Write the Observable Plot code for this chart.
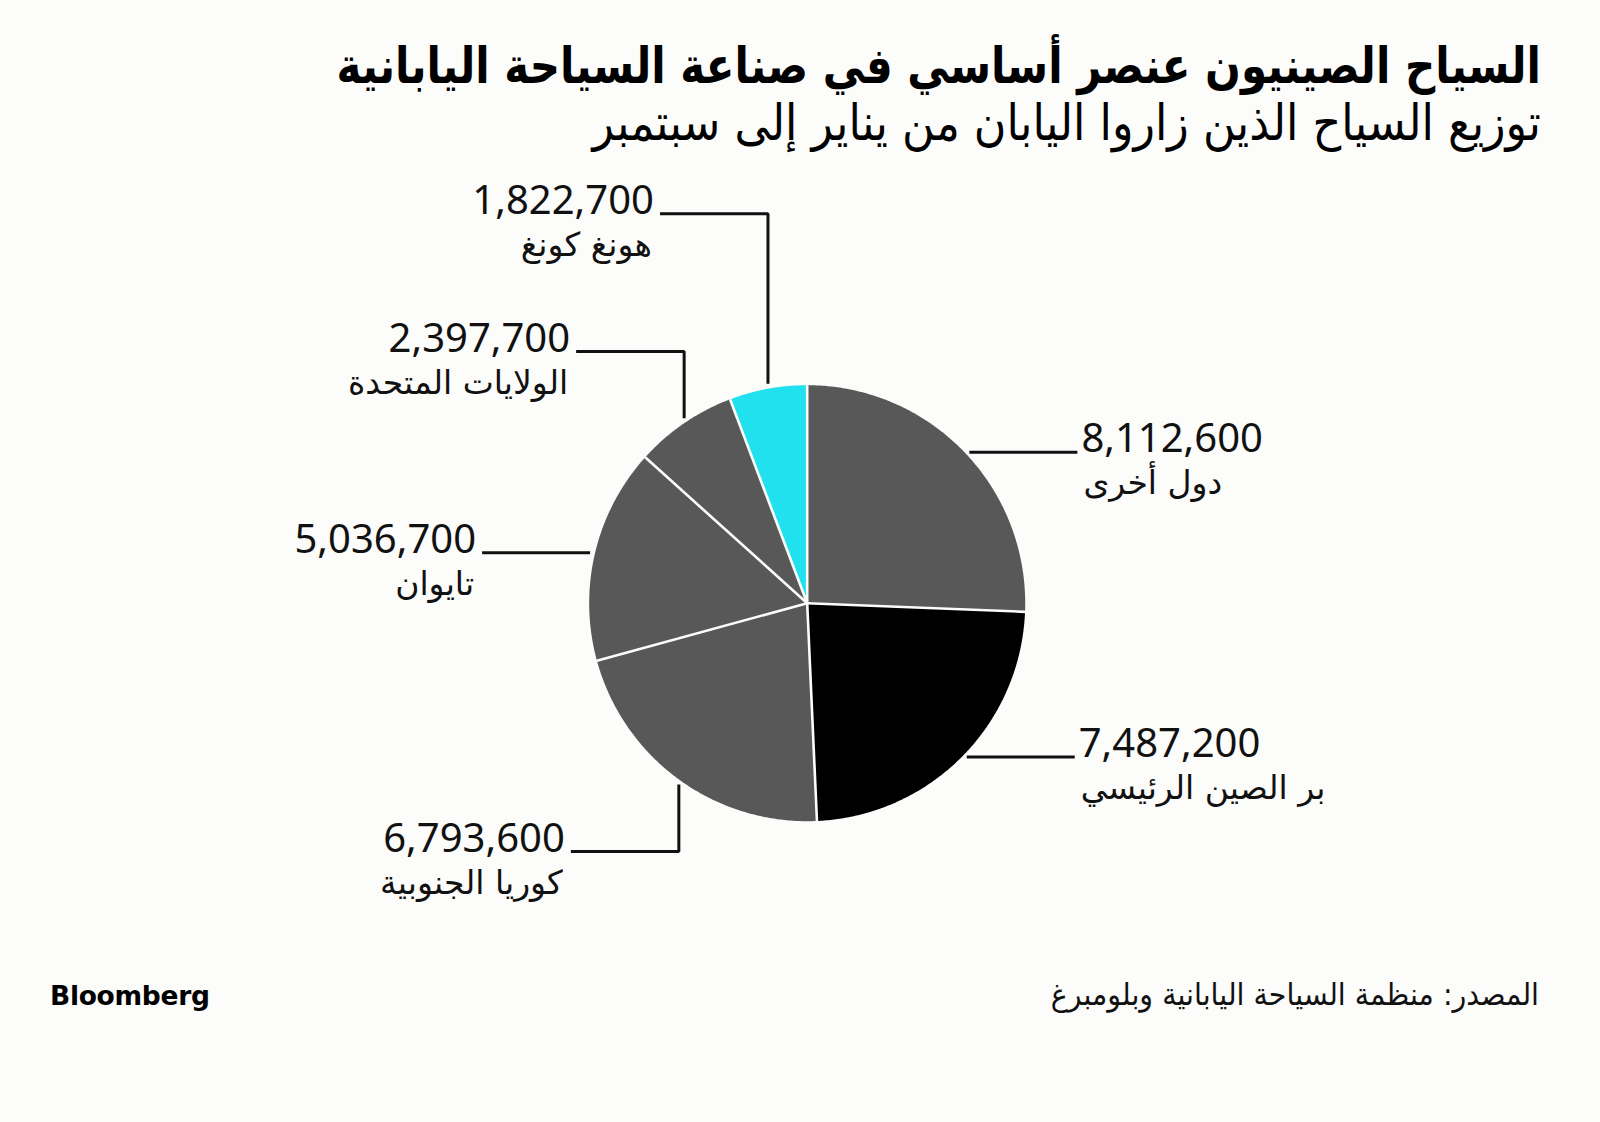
<!DOCTYPE html>
<html>
<head>
<meta charset="utf-8">
<script src="https://cdn.jsdelivr.net/npm/d3@7"></script>
<script src="https://cdn.jsdelivr.net/npm/@observablehq/plot@0.6"></script>
<style>
  html, body { margin: 0; padding: 0; background: #fcfcfa; }
  #page { position: relative; width: 1600px; height: 1122px; overflow: hidden; background: #fcfcfa; }
  #header { position: relative; height: 170px; }
  .title { position: absolute; right: 59px; top: 42px; font-family: "DejaVu Sans"; font-weight: bold; font-size: 42px; line-height: 1; direction: rtl; white-space: nowrap; color: #000; transform: scale(1, 1.18); transform-origin: 100% 0; }
  .subtitle { position: absolute; right: 59px; top: 99px; font-family: "DejaVu Sans"; font-weight: normal; font-size: 44.5px; line-height: 1; direction: rtl; white-space: nowrap; color: #000; transform: scale(1, 1.12); transform-origin: 100% 0; }
  #chart { position: absolute; left: 0; top: 170px; }
  .brand { position: absolute; left: 50px; top: 983px; font-family: "DejaVu Sans"; font-weight: bold; font-size: 26.5px; line-height: 1; color: #000; letter-spacing: -0.3px; }
  .source { position: absolute; right: 61px; top: 980px; font-family: "DejaVu Sans"; font-size: 28.5px; line-height: 1; direction: rtl; white-space: nowrap; color: #111; transform: scale(1, 1.08); transform-origin: 100% 0; }
</style>
</head>
<body>
<div id="page">
  <div id="header">
    <div class="title" id="title"></div>
    <div class="subtitle" id="subtitle"></div>
  </div>
  <div id="chart"></div>
  <div class="brand" id="brand"></div>
  <div class="source" id="source"></div>
</div>
<script>
// ---------- data ----------
const titleText = "السياح الصينيون عنصر أساسي في صناعة السياحة اليابانية";
const subtitleText = "توزيع السياح الذين زاروا اليابان من يناير إلى سبتمبر";
const sourceText = "المصدر: منظمة السياحة اليابانية وبلومبرغ";
const brandText = "Bloomberg";

// slices in clockwise order starting at 12 o'clock
const regions = ["دول أخرى", "بر الصين الرئيسي", "كوريا الجنوبية", "تايوان", "الولايات المتحدة", "هونغ كونغ"];
const visitors = [8112600, 7487200, 6793600, 5036700, 2397700, 1822700];

// ---------- styles / layout (kept apart from the data) ----------
const sliceColors = ["#585858", "#000000", "#585858", "#585858", "#585858", "#22e1ee"];
const W = 1600, H = 780;
const R = 218, CX = 806.7, CY = 432.7;   // pie radius and centre in px
const GAP = 5, RUN = 108;                // leader gap and horizontal run, px
// leader routing per slice: side of label, and for elbowed leaders the y of the elbow (px from centre)
const leaderRoute = [
  {side: "right"},
  {side: "right"},
  {side: "left", elbow: 248.3},
  {side: "left"},
  {side: "left", elbow: -251.7},
  {side: "left", elbow: -389.4}
];

document.getElementById("title").textContent = titleText;
document.getElementById("subtitle").textContent = subtitleText;
document.getElementById("source").textContent = sourceText;
document.getElementById("brand").textContent = brandText;

const rows = regions.map((name, i) => ({name, value: visitors[i], i}));
const arcs = d3.pie().sort(null).value(d => d.value)(rows);

// slice outlines (centre + arc samples), in radius units
const slicePts = arcs.flatMap(a => {
  const n = Math.max(4, Math.ceil((a.endAngle - a.startAngle) / (Math.PI / 360)));
  const pts = [{name: a.data.name, x: 0, y: 0}];
  for (let k = 0; k <= n; k++) {
    const t = a.startAngle + (a.endAngle - a.startAngle) * k / n;
    pts.push({name: a.data.name, x: Math.sin(t), y: -Math.cos(t)});
  }
  return pts;
});

// white separators at slice boundaries
const seps = arcs.map(a => ({x: Math.sin(a.startAngle), y: -Math.cos(a.startAngle)}));

// leaders + label anchors
const g = GAP / R, run = RUN / R;
const leaderPts = [];
const labels = [];
arcs.forEach((a, i) => {
  const m = (a.startAngle + a.endAngle) / 2;
  const ex = Math.sin(m), ey = -Math.cos(m);
  const route = leaderRoute[i];
  let pts;
  if (route.elbow !== undefined) {
    const ty = route.elbow / R;
    const s = ty < ey ? -1 : 1;
    pts = [[ex, ey + s * g], [ex, ty], [ex - run, ty]];
  } else if (route.side === "left") {
    pts = [[ex - g, ey], [ex - g - run, ey]];
  } else {
    pts = [[ex + g, ey], [ex + g + run, ey]];
  }
  pts.forEach(([x, y]) => leaderPts.push({name: a.data.name, x, y}));
  const last = pts[pts.length - 1];
  labels.push({name: a.data.name, num: d3.format(",")(a.data.value), side: route.side, x: last[0], y: last[1]});
});
const leftLabels = labels.filter(d => d.side === "left");
const rightLabels = labels.filter(d => d.side === "right");

const chart = Plot.plot({
  width: W,
  height: H,
  margin: 0,
  x: {domain: [-CX / R, (W - CX) / R], range: [0, W], axis: null},
  y: {domain: [-CY / R, (H - CY) / R], range: [0, H], axis: null},
  color: {domain: regions, range: sliceColors},
  style: {background: "transparent", overflow: "visible"},
  marks: [
    Plot.line(slicePts, {x: "x", y: "y", z: "name", fill: "name", stroke: "none", curve: "linear-closed"}),
    Plot.link(seps, {x1: 0, y1: 0, x2: "x", y2: "y", stroke: "#fcfcfa", strokeWidth: 2.6}),
    Plot.line(leaderPts, {x: "x", y: "y", z: "name", stroke: "#111", strokeWidth: 3, strokeLinejoin: "miter", strokeLinecap: "butt"}),
    Plot.text(leftLabels, {x: "x", y: "y", text: "num", textAnchor: "end", lineAnchor: "bottom", dx: -6, fontFamily: "Noto Sans", fontSize: 40, fill: "#111"}),
    Plot.text(rightLabels, {x: "x", y: "y", text: "num", textAnchor: "start", lineAnchor: "bottom", dx: 4, fontFamily: "Noto Sans", fontSize: 40, fill: "#111"}),
    Plot.text(leftLabels, {x: "x", y: "y", text: "name", textAnchor: "end", lineAnchor: "bottom", dx: -8, dy: 42, fontFamily: "DejaVu Sans", fontSize: 33, fill: "#111"}),
    Plot.text(rightLabels, {x: "x", y: "y", text: "name", textAnchor: "start", lineAnchor: "bottom", dx: 6, dy: 42, fontFamily: "DejaVu Sans", fontSize: 33, fill: "#111"})
  ]
});
document.getElementById("chart").appendChild(chart);
</script>
</body>
</html>
